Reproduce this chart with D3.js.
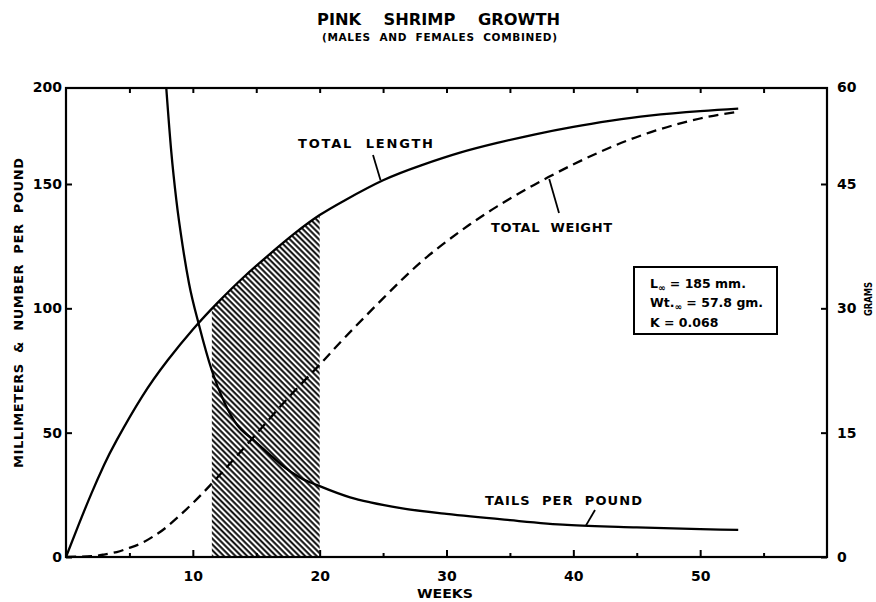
<!DOCTYPE html>
<html>
<head>
<meta charset="utf-8">
<script src="https://cdn.jsdelivr.net/npm/d3@7"></script>
<style>
  body { margin: 0; background: #fff; }
  text { font-family: "DejaVu Sans", sans-serif; font-weight: bold; fill: #000; white-space: pre; }
</style>
</head>
<body>
<svg id="mainsvg" width="876" height="602"></svg>
<script>
// values
const lengthWeeks = [0, 1, 2, 3, 4, 6, 8, 10, 12, 14, 16, 18, 20, 22, 25, 28, 31, 34, 37, 40, 43, 46, 50, 53];
const lengthMm    = [0, 13, 25.5, 37, 47, 64.5, 79, 91.5, 102.5, 112.5, 121.5, 130, 137.5, 143.5, 151.5, 157.5, 162.5, 166.5, 170, 173, 175.5, 177.5, 179.3, 180.3];

const weightWeeks = [0, 2, 3, 4, 5, 6, 7, 8, 10, 12, 14, 16, 18, 20, 22, 25, 28, 31, 34, 38, 42, 46, 50, 53];
const weightG     = [0, 0.1, 0.3, 0.6, 1.1, 1.7, 2.6, 3.7, 6.5, 9.7, 13.1, 16.6, 20.0, 23.2, 26.5, 31.2, 35.6, 39.2, 42.3, 45.8, 48.8, 51.2, 52.9, 53.7];

const tailsWeeks  = [7.9, 8.3, 8.7, 9.2, 9.7, 10.5, 11.5, 12.5, 13.5, 14.8, 16, 17, 18.5, 20, 22.4, 24, 26.4, 30, 35, 39.5, 45, 50, 53];
const tailsPerLb  = [189, 163, 143.5, 125, 110, 93, 75, 62, 53, 47, 41.5, 37, 31.8, 28.5, 24, 22, 19.7, 17.3, 14.8, 12.9, 11.9, 11.2, 10.9];

const hatchWeeks = [11.5, 20];

const leftTicks = [0, 50, 100, 150];
const rightTicks = [0, 15, 30, 45];
const weekLabels = [10, 20, 30, 40, 50];
const weekMinor = [5, 15, 25, 35, 45, 55];
const weekTop = [5, 10, 15, 20, 25, 30, 35, 40, 45, 50, 55];

const constants = ['185 mm.', '57.8 gm.', '0.068'];

const svg = d3.select('#mainsvg');
const width = +svg.attr('width');
const height = +svg.attr('height');
const margin = { top: 88, right: 49, bottom: 45, left: 66 };
const innerWidth = width - margin.left - margin.right;
const innerHeight = height - margin.top - margin.bottom;
const g = svg.append('g')
  .attr('transform', `translate(${margin.left}, ${margin.top})`);

// the frame top is labelled 200 / 60 in the original, but the curves follow
// the 50-mm spacing of the lower ticks, so the top really sits near 188.6
const x = d3.scaleLinear().domain([0, 60]).range([0, innerWidth]);
const yL = d3.scaleLinear().domain([0, 188.6]).range([innerHeight, 0]);
const yR = d3.scaleLinear().domain([0, 56.58]).range([innerHeight, 0]);

const defs = svg.append('defs');
defs.append('clipPath').attr('id', 'plotclip')
  .append('rect').attr('width', innerWidth).attr('height', innerHeight);
defs.append('clipPath').attr('id', 'hatchclip')
  .append('rect')
  .attr('x', x(hatchWeeks[0]))
  .attr('width', x(hatchWeeks[1]) - x(hatchWeeks[0]))
  .attr('height', innerHeight);
const pat = defs.append('pattern').attr('id', 'hatch')
  .attr('patternUnits', 'userSpaceOnUse')
  .attr('width', 8).attr('height', 4.1)
  .attr('patternTransform', 'rotate(45)');
pat.append('line')
  .attr('x1', 0).attr('x2', 8).attr('y1', 2).attr('y2', 2)
  .attr('stroke', '#000').attr('stroke-width', 1.9);

const lengthData = lengthWeeks.map((w, i) => ({ w, v: lengthMm[i] }));
const weightData = weightWeeks.map((w, i) => ({ w, v: weightG[i] }));
const tailsData = tailsWeeks.map((w, i) => ({ w, v: tailsPerLb[i] }));

// hatched band under the length curve
g.append('path')
  .datum(lengthData)
  .attr('clip-path', 'url(#hatchclip)')
  .attr('fill', 'url(#hatch)')
  .attr('d', d3.area().curve(d3.curveNatural)
    .x(d => x(d.w)).y0(innerHeight).y1(d => yL(d.v)));

const plot = g.append('g').attr('clip-path', 'url(#plotclip)');

plot.append('path')
  .datum(lengthData)
  .attr('fill', 'none').attr('stroke', '#000').attr('stroke-width', 2.3)
  .attr('d', d3.line().curve(d3.curveNatural).x(d => x(d.w)).y(d => yL(d.v)));

plot.append('path')
  .datum(weightData)
  .attr('fill', 'none').attr('stroke', '#000').attr('stroke-width', 2.3)
  .attr('stroke-dasharray', '10 6')
  .attr('d', d3.line().curve(d3.curveNatural).x(d => x(d.w)).y(d => yR(d.v)));

plot.append('path')
  .datum(tailsData)
  .attr('fill', 'none').attr('stroke', '#000').attr('stroke-width', 2.3)
  .attr('d', d3.line().curve(d3.curveMonotoneX).x(d => x(d.w)).y(d => yL(d.v)));

// frame
g.append('rect')
  .attr('width', innerWidth).attr('height', innerHeight)
  .attr('fill', 'none').attr('stroke', '#000').attr('stroke-width', 2.2);

// axes
g.append('g')
  .call(d3.axisLeft(yL).tickValues(leftTicks).tickSizeInner(-6).tickSizeOuter(0).tickPadding(4));
g.append('g')
  .attr('transform', `translate(${innerWidth},0)`)
  .call(d3.axisRight(yR).tickValues(rightTicks).tickSizeInner(-6).tickSizeOuter(0).tickPadding(10));
g.append('g')
  .attr('transform', `translate(0,${innerHeight})`)
  .call(d3.axisBottom(x).tickValues(weekLabels).tickSizeInner(-7).tickSizeOuter(0).tickPadding(14));
g.append('g')
  .attr('transform', `translate(0,${innerHeight})`)
  .call(d3.axisBottom(x).tickValues(weekMinor).tickSizeInner(-4).tickSizeOuter(0).tickFormat(''));
g.append('g')
  .call(d3.axisTop(x).tickValues(weekTop).tickSizeInner(-5).tickSizeOuter(0).tickFormat(''));

g.selectAll('.domain').remove();
g.selectAll('.tick line').attr('stroke-width', 2);
g.selectAll('.tick text').attr('font-size', 14);

// top-of-frame labels
g.append('text').attr('x', -4).attr('y', 0).attr('dy', '0.32em')
  .attr('text-anchor', 'end').attr('font-size', 14).text('200');
g.append('text').attr('x', innerWidth + 10).attr('y', 0).attr('dy', '0.32em')
  .attr('font-size', 14).text('60');

// titles
svg.append('text').attr('x', 317).attr('y', 25)
  .attr('font-size', 16).attr('textLength', 243).attr('lengthAdjust', 'spacingAndGlyphs')
  .text('PINK    SHRIMP    GROWTH');
svg.append('text').attr('x', 322).attr('y', 41)
  .attr('font-size', 10.5).attr('textLength', 235).attr('lengthAdjust', 'spacing')
  .text('(MALES  AND  FEMALES  COMBINED)');

svg.append('text').attr('x', 417).attr('y', 598)
  .attr('font-size', 12.5).attr('textLength', 56).attr('lengthAdjust', 'spacingAndGlyphs')
  .text('WEEKS');

svg.append('text')
  .attr('transform', 'translate(23,468) rotate(-90)')
  .attr('font-size', 13).attr('textLength', 310).attr('lengthAdjust', 'spacing')
  .text('MILLIMETERS  &  NUMBER  PER  POUND');

svg.append('text')
  .attr('transform', 'translate(872,316) rotate(-90)')
  .attr('font-size', 11).attr('textLength', 34).attr('lengthAdjust', 'spacingAndGlyphs')
  .text('GRAMS');

// curve labels with leader lines
const labels = [
  { text: 'TOTAL  LENGTH', x: 298, y: 148, len: 135, lead: [[373, 155], [x(24.8) + margin.left, yL(151.5) + margin.top]] },
  { text: 'TOTAL  WEIGHT', x: 491, y: 232, len: 121, lead: [[559, 213], [x(38.1) + margin.left, yR(45.6) + margin.top]] },
  { text: 'TAILS  PER  POUND', x: 485, y: 505, len: 157, lead: [[595, 510], [x(41) + margin.left, yL(12.7) + margin.top]] }
];
svg.selectAll('text.lab').data(labels).join('text')
  .attr('class', 'lab')
  .attr('x', d => d.x).attr('y', d => d.y)
  .attr('font-size', 13)
  .attr('textLength', d => d.len).attr('lengthAdjust', 'spacing')
  .text(d => d.text);
svg.selectAll('line.lead').data(labels).join('line')
  .attr('class', 'lead')
  .attr('x1', d => d.lead[0][0]).attr('y1', d => d.lead[0][1])
  .attr('x2', d => d.lead[1][0]).attr('y2', d => d.lead[1][1])
  .attr('stroke', '#000').attr('stroke-width', 1.8);

// constants box
svg.append('rect')
  .attr('x', 634).attr('y', 267).attr('width', 143).attr('height', 67)
  .attr('fill', '#fff').attr('stroke', '#000').attr('stroke-width', 2);
const box = svg.append('g').attr('font-size', 12.5);
const l1 = box.append('text').attr('x', 650).attr('y', 288);
l1.append('tspan').text('L');
l1.append('tspan').attr('dy', 3).attr('font-size', 9).text('∞');
l1.append('tspan').attr('dy', -3).text(' = ' + constants[0]);
const l2 = box.append('text').attr('x', 650).attr('y', 307);
l2.append('tspan').text('Wt.');
l2.append('tspan').attr('dy', 3).attr('font-size', 9).text('∞');
l2.append('tspan').attr('dy', -3).text(' = ' + constants[1]);
box.append('text').attr('x', 650).attr('y', 327).text('K = ' + constants[2]);
</script>
</body>
</html>
